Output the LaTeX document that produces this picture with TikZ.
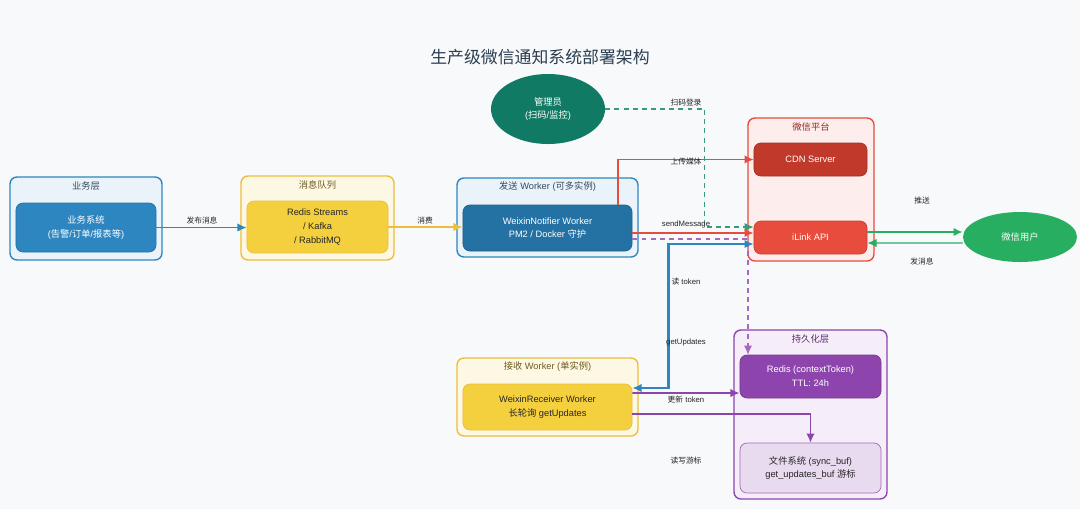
\documentclass[tikz,border=0pt]{standalone}
\usepackage{fontspec}
\setmainfont{Liberation Sans}
\newfontfamily\cjk{Noto Sans CJK SC}
\usepackage{xcolor}
\usetikzlibrary{positioning,arrows.meta,shapes.geometric,calc}
\definecolor{bgcol}{HTML}{F8F9FB}
\definecolor{titlecol}{HTML}{2C3E50}
\definecolor{blueline}{HTML}{2E86C1}
\definecolor{bluebg}{HTML}{EAF3FA}
\definecolor{bluedark}{HTML}{2471A3}
\definecolor{bluetxt}{HTML}{34495E}
\definecolor{yelline}{HTML}{EDBE3C}
\definecolor{yelbg}{HTML}{FDF8E4}
\definecolor{yelbox}{HTML}{F4D03F}
\definecolor{yeltxt}{HTML}{6E5A1E}
\definecolor{redline}{HTML}{E74C3C}
\definecolor{redbg}{HTML}{FDEDEC}
\definecolor{reddark}{HTML}{C0392B}
\definecolor{redtxt}{HTML}{922B21}
\definecolor{teal}{HTML}{117A65}
\definecolor{tealline}{HTML}{3A9A7E}
\definecolor{green}{HTML}{27AE60}
\definecolor{purpline}{HTML}{8E44AD}
\definecolor{purpbg}{HTML}{F5EEF8}
\definecolor{purplight}{HTML}{E8DAEF}
\definecolor{purpdash}{HTML}{A569BD}
\definecolor{purptxt}{HTML}{5B2C6F}
\tikzset{
  wtip/.tip={Latex[length=6.5pt,width=6pt]},
  flow/.style={-wtip, line width=1.3pt},
  dflow/.style={-wtip, line width=1.0pt, dash pattern=on 3.5pt off 3pt},
  every node/.style={anchor=center}
}

\begin{document}
\begin{tikzpicture}[
  x=0.025cm, y=-0.025cm,
  font=\fontsize{6.6}{9.8}\selectfont,
  group/.style={draw, rounded corners=5pt, line width=1.0pt, inner sep=0pt},
  box/.style={draw, rounded corners=5pt, line width=0.5pt, align=center, inner sep=0pt},
  grouptitle/.style={font=\fontsize{6.6}{8}\selectfont},
  lbl/.style={font=\fontsize{5.5}{6}\selectfont, text=black!85}
]
\fill[bgcol] (0,0) rectangle (1080,509);
\useasboundingbox (0,0) rectangle (1080,509);

\node[font=\fontsize{12}{14}\selectfont\cjk, text=titlecol] (title) at (540,57) {生产级微信通知系统部署架构};

% groups
\node[group, draw=blueline, fill=bluebg, minimum width=3.8cm, minimum height=2.075cm] (bizlayer) at (86,218.5) {};
\node[grouptitle, text=bluetxt] (bizlayertitle) at (86,186) {\cjk 业务层};
\node[group, draw=yelline, fill=yelbg, minimum width=3.825cm, minimum height=2.1cm] (mqlayer) at (317.5,218) {};
\node[grouptitle, text=yeltxt] (mqlayertitle) at (317.5,185) {\cjk 消息队列};
\node[group, draw=blueline, fill=bluebg, minimum width=4.525cm, minimum height=1.975cm] (sendlayer) at (547.5,217.5) {};
\node[grouptitle, text=bluetxt] (sendlayertitle) at (547.5,187) {{\cjk 发送} Worker ({\cjk 可多实例})};
\node[group, draw=redline, fill=redbg, minimum width=3.15cm, minimum height=3.575cm] (wxlayer) at (811,189.5) {};
\node[grouptitle, text=redtxt] (wxlayertitle) at (811,127) {\cjk 微信平台};
\node[group, draw=purpline, fill=purpbg, minimum width=3.825cm, minimum height=4.225cm] (storelayer) at (810.5,414.5) {};
\node[grouptitle, text=purptxt] (storelayertitle) at (810.5,339) {\cjk 持久化层};
\node[group, draw=yelline, fill=yelbg, minimum width=4.525cm, minimum height=1.95cm] (recvlayer) at (547.5,397) {};
\node[grouptitle, text=yeltxt] (recvlayertitle) at (547.5,367) {{\cjk 接收} Worker ({\cjk 单实例})};

% components
\node[box, draw=blueline!85!black, fill=blueline, text=white, minimum width=3.5cm, minimum height=1.225cm] (bizsys) at (86,227.5) {{\cjk 业务系统}\\({\cjk 告警}/{\cjk 订单}/{\cjk 报表等})};
\node[box, draw=yelline, fill=yelbox, text=black!85, minimum width=3.525cm, minimum height=1.3cm] (mqbox) at (317.5,227) {Redis Streams\\/ Kafka\\/ RabbitMQ};
\node[box, draw=bluedark!85!black, fill=bluedark, text=white, minimum width=4.225cm, minimum height=1.15cm] (sender) at (547.5,228) {WeixinNotifier Worker\\PM2 / Docker {\cjk 守护}};
\node[box, draw=reddark!85!black, fill=reddark, text=white, minimum width=2.825cm, minimum height=0.825cm] (cdn) at (810.5,159.5) {CDN Server};
\node[box, draw=redline!85!black, fill=redline, text=white, minimum width=2.825cm, minimum height=0.825cm] (ilink) at (810.5,237.5) {iLink API};
\node[box, draw=purpline!85!black, fill=purpline, text=white, minimum width=3.525cm, minimum height=1.075cm] (rediskv) at (810.5,376.5) {Redis (contextToken)\\TTL: 24h};
\node[box, draw=purpdash, fill=purplight, text=black!85, minimum width=3.525cm, minimum height=1.25cm] (fsbox) at (810.5,468) {{\cjk 文件系统} (sync\_buf)\\get\_updates\_buf {\cjk 游标}};
\node[box, draw=yelline, fill=yelbox, text=black!85, minimum width=4.225cm, minimum height=1.15cm] (receiver) at (547.5,407) {WeixinReceiver Worker\\{\cjk 长轮询} getUpdates};
\node[ellipse, fill=teal, text=white, align=center, inner sep=0pt, minimum width=2.85cm, minimum height=1.75cm] (admin) at (548,109) {{\cjk 管理员}\\({\cjk 扫码}/{\cjk 监控})};
\node[ellipse, fill=green, text=white, align=center, inner sep=0pt, minimum width=2.85cm, minimum height=1.25cm] (wxuser) at (1020,237) {\cjk 微信用户};

% connectors
\draw[flow, draw=blueline] (bizsys.east) -- (bizsys.east -| mqbox.west);
\draw[flow, draw=yelline] (mqbox.east) -- (mqbox.east -| sender.west);
\draw[dflow, draw=tealline] (admin.east) -| ($(ilink.west)+(-49,-10.5)$) -- ($(ilink.west)+(0,-10.5)$);
\draw[flow, draw=redline, line width=1pt] ($(sender.north)+(70.5,0)$) |- (cdn.west);
\draw[flow, draw=redline] ($(sender.east)+(0,5)$) -- ($(ilink.west)+(0,-4.5)$);
\draw[dflow, draw=purpdash] ($(sender.east)+(0,11)$) -| ($(rediskv.north)+(-62.5,0)$);
\draw[flow, wtip-wtip, draw=blueline, line width=1.8pt] ($(ilink.west)+(0,6.5)$) -| ($(receiver.east)+(36,-19)$) -- ($(receiver.east)+(0,-19)$);
\draw[flow, draw=purpline] ($(receiver.east)+(0,-14)$) -- ($(rediskv.west)+(0,16.5)$);
\draw[flow, draw=purpline, line width=1pt] ($(receiver.east)+(0,7)$) -| (fsbox.north);
\draw[flow, draw=green] ($(ilink.east)+(0,-5.5)$) -- ($(wxuser.west)+(0,-5)$);
\draw[flow, draw=green, line width=1pt] ($(wxuser.west)+(0,6)$) -- ($(ilink.east)+(0,5.5)$);

% labels
\node[lbl] (pubmsg) at (202,221) {\cjk 发布消息};
\node[lbl] (consume) at (425,221) {\cjk 消费};
\node[lbl] (scan) at (686,103) {\cjk 扫码登录};
\node[lbl] (upload) at (686,162) {\cjk 上传媒体};
\node[lbl] (sendmsg) at (686,224) {sendMessage};
\node[lbl] (readtok) at (686,282) {{\cjk 读} token};
\node[lbl] (getupd) at (686,342) {getUpdates};
\node[lbl] (updtok) at (686,400) {{\cjk 更新} token};
\node[lbl] (cursor) at (686,461) {\cjk 读写游标};
\node[lbl] (push) at (922,201) {\cjk 推送};
\node[lbl] (reply) at (922,262) {\cjk 发消息};
\end{tikzpicture}
\end{document}
